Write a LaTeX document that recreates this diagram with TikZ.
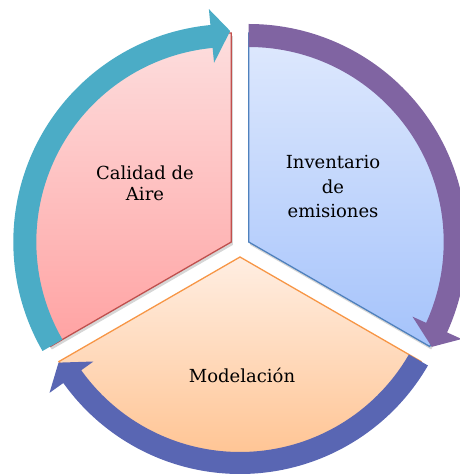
\documentclass[tikz,border=0pt]{standalone}
\usepackage{fontspec}
\setmainfont{DejaVu Serif}
\definecolor{pinktop}{HTML}{FDDEDE}
\definecolor{pinkbot}{HTML}{FFA2A2}
\definecolor{pinkline}{HTML}{C0504D}
\definecolor{bluetop}{HTML}{DFE9FD}
\definecolor{bluebot}{HTML}{A5C3FB}
\definecolor{blueline}{HTML}{4F81BD}
\definecolor{orangetop}{HTML}{FFEEE2}
\definecolor{orangebot}{HTML}{FFBC84}
\definecolor{orangeline}{HTML}{F79646}
\definecolor{tealarrow}{HTML}{4BACC6}
\definecolor{purplearrow}{HTML}{8064A2}
\definecolor{navyarrow}{HTML}{5966B3}
\begin{document}
\begin{tikzpicture}[x=1pt,y=1pt,
  secline/.style={line width=1.3pt, line join=miter},
  shad/.style={fill=black, opacity=0.16},
  lbl/.style={align=center, text=black}]
\useasboundingbox (0,0) rectangle (460,474);
% shadows
\begin{scope}[shift={(232.8,229)}]
  \fill[shad] (0,0) -- (90:209pt) arc[start angle=90,end angle=210,radius=209pt] -- cycle;
\end{scope}
\begin{scope}[shift={(250.2,229)}]
  \fill[shad] (0,0) -- (-30:209pt) arc[start angle=-30,end angle=90,radius=209pt] -- cycle;
\end{scope}
\begin{scope}[shift={(241.5,214)}]
  \fill[shad] (0,0) -- (210:209pt) arc[start angle=210,end angle=330,radius=209pt] -- cycle;
\end{scope}
% pink sector
\begin{scope}[shift={(231.3,232)}]
  \shade[top color=pinktop,bottom color=pinkbot] (0,0) -- (90:209pt) arc[start angle=90,end angle=210,radius=209pt] -- cycle;
  \draw[secline,draw=pinkline] (0,0) -- (90:209pt) arc[start angle=90,end angle=210,radius=209pt] -- cycle;
\end{scope}
% blue sector
\begin{scope}[shift={(248.7,232)}]
  \shade[top color=bluetop,bottom color=bluebot] (0,0) -- (-30:209pt) arc[start angle=-30,end angle=90,radius=209pt] -- cycle;
  \draw[secline,draw=blueline] (0,0) -- (-30:209pt) arc[start angle=-30,end angle=90,radius=209pt] -- cycle;
\end{scope}
% orange sector
\begin{scope}[shift={(240,217)}]
  \shade[top color=orangetop,bottom color=orangebot] (0,0) -- (210:209pt) arc[start angle=210,end angle=330,radius=209pt] -- cycle;
  \draw[secline,draw=orangeline] (0,0) -- (210:209pt) arc[start angle=210,end angle=330,radius=209pt] -- cycle;
\end{scope}
% teal arrow
\begin{scope}[shift={(231.3,232)}]
  \fill[tealarrow] (210:218pt) arc[start angle=210,end angle=95.5,radius=218pt]
    -- (95.5:234pt) -- (90.3:211pt) -- (95.5:180pt) -- (95.5:195pt)
    arc[start angle=95.5,end angle=210,radius=195pt] -- cycle;
\end{scope}
% purple arrow
\begin{scope}[shift={(248.7,232)}]
  \fill[purplearrow] (90:218pt) arc[start angle=90,end angle=-24.5,radius=218pt]
    -- (-24.5:234pt) -- (-29.8:211pt) -- (-24.5:180pt) -- (-24.5:195pt)
    arc[start angle=-24.5,end angle=90,radius=195pt] -- cycle;
\end{scope}
% navy arrow
\begin{scope}[shift={(240,217)}]
  \fill[navyarrow] (-30:217pt) arc[start angle=-30,end angle=-144.5,radius=217pt]
    -- (-144.5:234pt) -- (-149.8:210pt) -- (-144.5:180pt) -- (-144.5:195pt)
    arc[start angle=-144.5,end angle=-30,radius=195pt] -- cycle;
\end{scope}
% labels
\node[lbl, font=\fontsize{18}{21}\selectfont] (calidad) at (145,291) {Calidad de\\Aire};
\node[lbl, font=\fontsize{18}{24.5}\selectfont] (inventario) at (333,287) {Inventario\\de\\emisiones};
\node[lbl, font=\fontsize{18}{24}\selectfont] (modelacion) at (242,99) {Modelación};
\end{tikzpicture}
\end{document}
